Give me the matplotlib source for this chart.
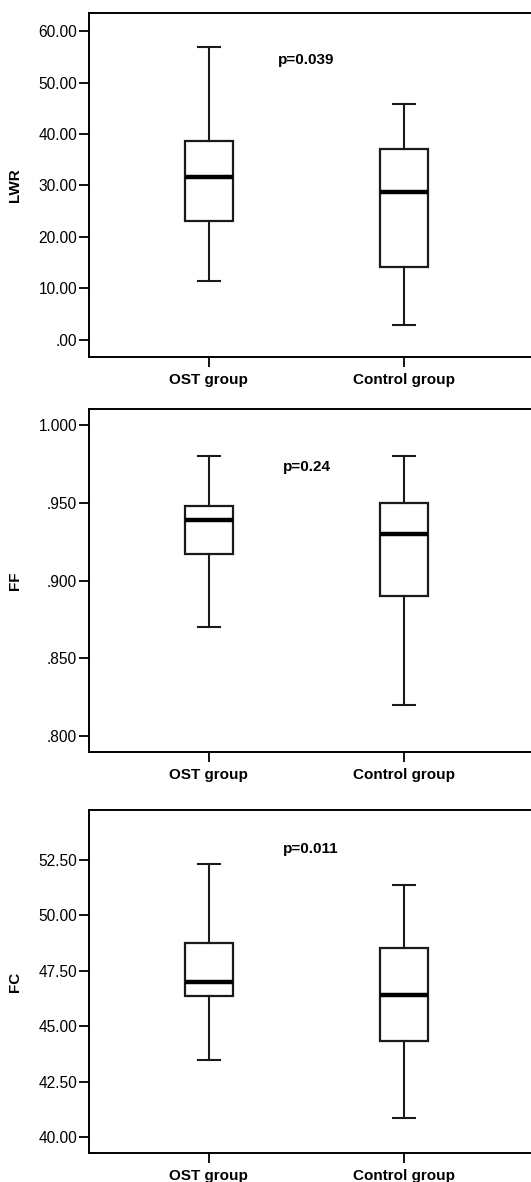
import matplotlib
matplotlib.use('Agg')
import matplotlib.pyplot as plt
from matplotlib.ticker import FuncFormatter
import numpy as np

plt.rcParams['font.family'] = ['Liberation Sans', 'DejaVu Sans']

groups = ['OST group', 'Control group']

# whisker low, Q1, median, Q3, whisker high (OST, Control)
lwr_lo = [11.5, 2.9]
lwr_q1 = [23.1, 14.1]
lwr_med = [31.6, 28.7]
lwr_q3 = [38.7, 37.0]
lwr_hi = [56.8, 45.9]

ff_lo = [0.870, 0.820]
ff_q1 = [0.917, 0.890]
ff_med = [0.939, 0.930]
ff_q3 = [0.948, 0.950]
ff_hi = [0.980, 0.980]

fc_lo = [43.50, 40.87]
fc_q1 = [46.37, 44.36]
fc_med = [46.99, 46.40]
fc_q3 = [48.77, 48.52]
fc_hi = [52.32, 51.39]

panels = [
    dict(name='LWR', p='p=0.039', lo=lwr_lo, q1=lwr_q1, med=lwr_med, q3=lwr_q3, hi=lwr_hi,
         ticks=np.arange(0, 61, 10), dec=2, ylim=(-3.37, 63.43), ptxt=(0.425, 0.864),
         rect=[89/531, 0.6977, 445/531, 0.2910]),
    dict(name='FF', p='p=0.24', lo=ff_lo, q1=ff_q1, med=ff_med, q3=ff_q3, hi=ff_hi,
         ticks=np.arange(0.80, 1.001, 0.05), dec=3, ylim=(0.7893, 1.0105), ptxt=(0.435, 0.832),
         rect=[89/531, 0.3635, 445/531, 0.2905]),
    dict(name='FC', p='p=0.011', lo=fc_lo, q1=fc_q1, med=fc_med, q3=fc_q3, hi=fc_hi,
         ticks=np.arange(40, 52.6, 2.5), dec=2, ylim=(39.28, 54.77), ptxt=(0.435, 0.886),
         rect=[89/531, 0.0243, 445/531, 0.2907]),
]


def spss_fmt(dec):
    def f(v, pos):
        s = '{:.{}f}'.format(v, dec)
        if s.startswith('0.'):
            s = s[1:]
        return s
    return FuncFormatter(f)


fig = plt.figure(figsize=(5.31, 11.82), dpi=100)
line_col = '#1a1a1a'

for pn in panels:
    ax = fig.add_axes(pn['rect'])
    stats = []
    for i in range(2):
        stats.append(dict(whislo=pn['lo'][i], q1=pn['q1'][i], med=pn['med'][i],
                          q3=pn['q3'][i], whishi=pn['hi'][i], fliers=[]))
    ax.bxp(stats, positions=[1, 2], widths=0.246, showfliers=False, patch_artist=True,
           boxprops=dict(facecolor='white', edgecolor=line_col, linewidth=1.6),
           medianprops=dict(color='black', linewidth=3.2, solid_capstyle='butt'),
           whiskerprops=dict(color=line_col, linewidth=1.5),
           capprops=dict(color=line_col, linewidth=1.5),
           capwidths=0.115)
    ax.set_xlim(0.385, 2.667)
    ax.set_ylim(*pn['ylim'])
    ax.set_yticks(pn['ticks'])
    ax.yaxis.set_major_formatter(spss_fmt(pn['dec']))
    ax.set_xticks([1, 2])
    ax.set_xticklabels(groups, fontsize=11, fontweight='bold')
    ax.tick_params(axis='y', direction='out', length=7, width=1.3, labelsize=11.2, pad=1.5)
    ax.tick_params(axis='x', direction='out', length=7, width=1.3, pad=4)
    for sp in ax.spines.values():
        sp.set_linewidth(1.4)
        sp.set_color('black')
    ax.set_ylabel(pn['name'], fontsize=11, fontweight='bold')
    ax.yaxis.set_label_coords(-0.15, 0.5)
    ax.text(pn['ptxt'][0], pn['ptxt'][1], pn['p'], transform=ax.transAxes,
            fontsize=11, fontweight='bold', ha='left', va='center')

fig.savefig('out.png', dpi=100)
